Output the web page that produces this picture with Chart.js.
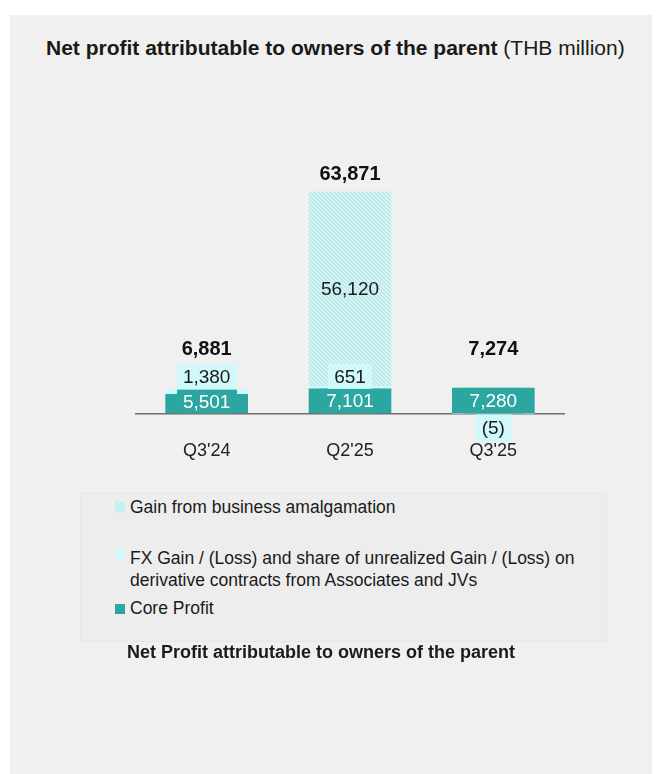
<!DOCTYPE html>
<html>
<head>
<meta charset="utf-8">
<script src="https://cdn.jsdelivr.net/npm/chart.js@4.4.1/dist/chart.umd.min.js"></script>
<style>
  html, body { margin: 0; padding: 0; background: #fff; }
  body { width: 662px; height: 774px; position: relative; font-family: "Liberation Sans", Arial, sans-serif; color: #1a1a1a; }
  #panel { position: absolute; left: 10px; top: 15px; width: 642px; height: 759px; background: #f0f0f0; }
  #title { position: absolute; left: 46px; top: 35px; font-size: 21px; white-space: nowrap; line-height: 26px; }
  #title b { font-weight: bold; }
  #chart { position: absolute; left: 10px; top: 100px; }
  #legendBox { position: absolute; left: 80px; top: 492px; width: 525px; height: 148px; background: #ededed; border: 1px solid #e7e7e7; }
  .item { position: absolute; left: 130px; font-size: 17.5px; line-height: 22px; white-space: nowrap; }
  .icon { position: absolute; left: 115px; width: 10px; height: 10px; }
  #bottomTitle { position: absolute; left: 127px; top: 641px; font-size: 18px; font-weight: bold; white-space: nowrap; line-height: 22px; }
</style>
</head>
<body>
<div id="panel"></div>
<div id="title"><b>Net profit attributable to owners of the parent</b> (THB million)</div>
<canvas id="chart" width="642" height="407"></canvas>
<div id="legendBox"></div>
<canvas class="icon" id="iconGain" width="10" height="12" style="top:501px;height:12px"></canvas>
<div class="item" style="top:496px">Gain from business amalgamation</div>
<div class="icon" style="top:549px;background:#cff9fa"></div>
<div class="item" style="top:547px">FX Gain / (Loss) and share of unrealized Gain / (Loss) on<br>derivative contracts from Associates and JVs</div>
<div class="icon" style="top:604px;background:#2ca6a1"></div>
<div class="item" style="top:597px">Core Profit</div>
<div id="bottomTitle">Net Profit attributable to owners of the parent</div>

<script>
// values in THB million
const categories = ["Q3'24", "Q2'25", "Q3'25"];
const coreProfit = [5501, 7101, 7280];
const fxGain = [1380, 651, -5];
const amalgamationGain = [0, 56120, 0];
const netProfit = [6881, 63871, 7274];

const TEAL = '#2ca6a1';
const CYAN = '#cff9fa';
const FONT = '"Liberation Sans", Arial, sans-serif';

// hatched fill for the amalgamation gain
function makeHatch() {
  const c = document.createElement('canvas');
  c.width = 4; c.height = 4;
  const g = c.getContext('2d');
  g.fillStyle = '#d2f4f4';
  g.fillRect(0, 0, 4, 4);
  g.strokeStyle = '#ade0e0';
  g.lineWidth = 1;
  g.beginPath();
  g.moveTo(-1, -1); g.lineTo(5, 5);
  g.moveTo(-1, 3); g.lineTo(1, 5);
  g.moveTo(3, -1); g.lineTo(5, 1);
  g.stroke();
  return g.createPattern(c, 'repeat');
}

function fmt(v) {
  return v < 0 ? '(' + Math.abs(v).toLocaleString('en-US') + ')' : v.toLocaleString('en-US');
}

// legend hatch icon
(function () {
  const ic = document.getElementById('iconGain').getContext('2d');
  ic.fillStyle = makeHatch();
  ic.fillRect(0, 0, 10, 12);
})();

// value labels with boxes, drawn on top of the bars
const labelPlugin = {
  id: 'labels',
  afterDatasetsDraw(chart) {
    const ctx = chart.ctx;
    const y = chart.scales.y;
    const y0 = y.getPixelForValue(0);
    const core = chart.getDatasetMeta(0).data;
    const gain = chart.getDatasetMeta(2).data;
    ctx.save();
    ctx.textAlign = 'center';
    ctx.textBaseline = 'middle';
    ctx.font = '19px ' + FONT;

    function box(text, cx, top, h, fill, color) {
      const w = ctx.measureText(text).width + 12;
      ctx.fillStyle = fill;
      ctx.fillRect(Math.round(cx - w / 2), top, Math.round(w), h);
      ctx.fillStyle = color;
      ctx.fillText(text, cx, top + h / 2 + 1);
    }

    for (let j = 0; j < categories.length; j++) {
      const cx = core[j].x;
      // core profit
      const coreTop = Math.min(core[j].y, y0 - 24);
      box(fmt(coreProfit[j]), cx, coreTop, y0 - coreTop, TEAL, '#ffffff');

      // fx gain / loss
      if (fxGain[j] > 0) {
        box(fmt(fxGain[j]), cx, coreTop - 25, 25, CYAN, '#1a1a1a');
      } else if (fxGain[j] < 0) {
        box(fmt(fxGain[j]), cx, y0 + 1, 27, CYAN, '#1a1a1a');
      }

      // amalgamation gain, inside its segment
      if (amalgamationGain[j] > 0) {
        const g = gain[j];
        ctx.fillStyle = '#1a1a1a';
        ctx.fillText(fmt(amalgamationGain[j]), cx, (g.y + g.base) / 2 + 1);
      }

      // total
      ctx.font = 'bold 20px ' + FONT;
      ctx.fillStyle = '#111111';
      const ty = Math.min(y.getPixelForValue(netProfit[j]) - 17, y0 - 64);
      ctx.fillText(fmt(netProfit[j]), cx, ty);
      ctx.font = '19px ' + FONT;
    }
    ctx.restore();
  }
};

new Chart(document.getElementById('chart'), {
  type: 'bar',
  data: {
    labels: categories,
    datasets: [
      { label: 'Core Profit', data: coreProfit, backgroundColor: TEAL, barThickness: 82 },
      { label: 'FX Gain / (Loss)', data: fxGain, backgroundColor: CYAN, barThickness: 82 },
      { label: 'Gain from business amalgamation', data: amalgamationGain, backgroundColor: makeHatch(), barThickness: 82 }
    ]
  },
  options: {
    responsive: false,
    animation: false,
    devicePixelRatio: 1,
    layout: { padding: { left: 125, right: 87, top: 36, bottom: 18 } },
    plugins: { legend: { display: false }, tooltip: { enabled: false } },
    scales: {
      x: {
        stacked: true,
        grid: { display: false, drawTicks: false, tickLength: 0 },
        border: { display: false },
        ticks: { padding: 27, color: '#222222', font: { family: FONT, size: 18 } }
      },
      y: {
        stacked: true,
        min: 0,
        max: 80000,
        ticks: { display: false },
        border: { display: false },
        grid: {
          drawTicks: false,
          tickLength: 0,
          lineWidth: 1.5,
          color: c => (c.tick && c.tick.value === 0 ? '#6e6e6e' : 'transparent')
        }
      }
    }
  },
  plugins: [labelPlugin]
});
</script>
</body>
</html>
